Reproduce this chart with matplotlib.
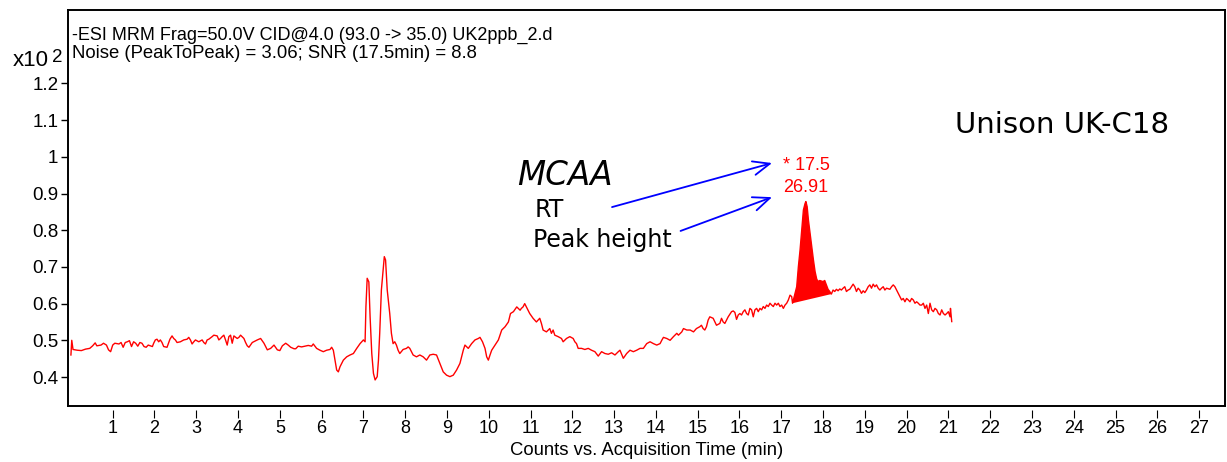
import numpy as np
import matplotlib
matplotlib.use("Agg")
import matplotlib.pyplot as plt

# chromatogram trace (time in min, counts in units of 10^2)
time_min = [
    0.00, 0.02, 0.05, 0.15, 0.25, 0.35, 0.45, 0.52, 0.58, 0.62, 0.72, 0.78, 0.85, 0.90, 0.95,
    1.00, 1.05, 1.15, 1.20, 1.25, 1.30, 1.35, 1.40, 1.45, 1.50, 1.55, 1.60, 1.65, 1.70, 1.75,
    1.80, 1.85, 1.95, 1.98, 2.02, 2.06, 2.10, 2.14, 2.18, 2.22, 2.30, 2.37, 2.42, 2.46, 2.50,
    2.54, 2.62, 2.70, 2.78, 2.82, 2.86, 2.90, 2.94, 2.98, 3.06, 3.14, 3.18, 3.22, 3.26, 3.30,
    3.38, 3.42, 3.50, 3.54, 3.58, 3.62, 3.66, 3.70, 3.74, 3.78, 3.82, 3.86, 3.90, 3.98, 4.02,
    4.06, 4.14, 4.18, 4.22, 4.26, 4.34, 4.46, 4.54, 4.62, 4.70, 4.78, 4.86, 4.94, 5.00, 5.06,
    5.14, 5.20, 5.26, 5.34, 5.38,
    5.44, 5.52, 5.60, 5.68, 5.76, 5.80, 5.84, 5.88, 5.96, 6.04, 6.12, 6.20, 6.24, 6.28, 6.32,
    6.36, 6.40, 6.44, 6.48, 6.52, 6.60, 6.68, 6.76, 6.84, 6.92, 7.00, 7.04, 7.06, 7.09, 7.13,
    7.16, 7.20, 7.24, 7.28, 7.33, 7.36, 7.39, 7.43, 7.50, 7.53, 7.57, 7.63, 7.67, 7.71, 7.75,
    7.79, 7.83, 7.87, 7.95, 8.03, 8.07, 8.11, 8.19, 8.27, 8.35, 8.43, 8.51, 8.59, 8.67, 8.75,
    8.83, 8.91, 8.99, 9.07, 9.15, 9.23, 9.31, 9.39, 9.43, 9.51, 9.59, 9.67, 9.75, 9.79, 9.85,
    9.91, 9.95, 9.99, 10.03, 10.07, 10.15, 10.23, 10.31, 10.39, 10.47, 10.52, 10.59, 10.67, 10.75,
    10.78, 10.82, 10.86, 10.90, 10.94, 10.98, 11.06, 11.14, 11.22, 11.26, 11.30, 11.38, 11.46, 11.50,
    11.54, 11.58, 11.66, 11.74, 11.78, 11.86, 11.94, 12.02, 12.06, 12.10, 12.14, 12.22, 12.30, 12.38,
    12.46, 12.54, 12.62, 12.70, 12.78, 12.86, 12.94, 13.02, 13.10, 13.14, 13.22, 13.30, 13.38, 13.46,
    13.54, 13.62, 13.70, 13.78, 13.86, 13.94, 14.02, 14.10, 14.14, 14.18, 14.26, 14.34, 14.42, 14.50,
    14.54, 14.62, 14.66, 14.74, 14.82, 14.90, 14.97, 15.05, 15.09, 15.13, 15.17, 15.21, 15.25, 15.29,
    15.37, 15.45, 15.53, 15.57, 15.61, 15.65, 15.73, 15.81, 15.85, 15.89, 15.93, 15.97, 16.01,
    16.05, 16.09, 16.13, 16.17, 16.21, 16.25, 16.29, 16.33, 16.37, 16.41, 16.45, 16.49, 16.53, 16.57,
    16.61, 16.65, 16.69, 16.73, 16.77, 16.81, 16.85, 16.89, 16.93, 16.97, 17.01, 17.05, 17.09, 17.13,
    17.17, 17.21, 17.25, 17.27, 17.33, 17.37, 17.41, 17.45, 17.49, 17.53, 17.57, 17.59, 17.62, 17.65,
    17.69, 17.73, 17.77, 17.81, 17.85, 17.89, 17.92, 18.00, 18.04, 18.08, 18.12, 18.16, 18.20,
    18.24, 18.28, 18.32, 18.36, 18.40, 18.44, 18.48, 18.52, 18.56, 18.60, 18.64, 18.68, 18.72, 18.76,
    18.80, 18.84, 18.88, 18.92, 18.96, 19.00, 19.04, 19.08, 19.12, 19.16, 19.20, 19.24, 19.28, 19.32,
    19.36, 19.40, 19.44, 19.48, 19.52, 19.60, 19.64, 19.68, 19.72, 19.76, 19.80, 19.84, 19.88, 19.92,
    19.96, 20.00, 20.04, 20.08, 20.12, 20.16, 20.20, 20.24, 20.28, 20.32, 20.36, 20.40, 20.44, 20.48,
    20.52, 20.56, 20.60, 20.64, 20.68, 20.72, 20.76, 20.80, 20.84, 20.88, 20.92, 20.96, 21.00, 21.04,
    21.05, 21.08,
]
counts = [
    0.460, 0.500, 0.475, 0.473, 0.472, 0.476, 0.478, 0.485, 0.493, 0.485, 0.487, 0.492, 0.487, 0.474, 0.469,
    0.487, 0.492, 0.490, 0.494, 0.481, 0.494, 0.496, 0.499, 0.483, 0.496, 0.492, 0.484, 0.494, 0.492, 0.483,
    0.481, 0.487, 0.483, 0.492, 0.501, 0.503, 0.496, 0.501, 0.494, 0.483, 0.481, 0.503, 0.512, 0.505, 0.501,
    0.494, 0.496, 0.501, 0.503, 0.508, 0.501, 0.490, 0.496, 0.501, 0.496, 0.501, 0.494, 0.490, 0.501, 0.503,
    0.510, 0.514, 0.512, 0.501, 0.505, 0.510, 0.514, 0.501, 0.487, 0.510, 0.514, 0.492, 0.512, 0.505, 0.508,
    0.514, 0.505, 0.494, 0.485, 0.481, 0.494, 0.501, 0.505, 0.492, 0.474, 0.478, 0.487, 0.474, 0.472, 0.485,
    0.492, 0.487, 0.481, 0.477, 0.477,
    0.484, 0.482, 0.484, 0.486, 0.484, 0.490, 0.484, 0.478, 0.473, 0.469, 0.473, 0.475, 0.481, 0.473, 0.446,
    0.419, 0.414, 0.428, 0.437, 0.446, 0.455, 0.460, 0.464, 0.478, 0.491, 0.501, 0.496, 0.591, 0.669, 0.659,
    0.564, 0.464, 0.410, 0.392, 0.401, 0.446, 0.519, 0.637, 0.728, 0.719, 0.637, 0.573, 0.519, 0.491, 0.496,
    0.487, 0.473, 0.464, 0.475, 0.478, 0.482, 0.478, 0.460, 0.455, 0.460, 0.455, 0.446, 0.460, 0.462, 0.460,
    0.437, 0.414, 0.405, 0.401, 0.405, 0.419, 0.437, 0.473, 0.487, 0.478, 0.491, 0.501, 0.505, 0.508, 0.496,
    0.478, 0.455, 0.446, 0.460, 0.473, 0.487, 0.501, 0.528, 0.537, 0.550, 0.573, 0.578, 0.591, 0.582,
    0.587, 0.591, 0.600, 0.591, 0.582, 0.573, 0.560, 0.550, 0.560, 0.546, 0.528, 0.523, 0.532, 0.519,
    0.528, 0.514, 0.510, 0.505, 0.496, 0.505, 0.510, 0.505, 0.496, 0.491, 0.478, 0.478, 0.475, 0.478,
    0.473, 0.469, 0.457, 0.469, 0.464, 0.462, 0.466, 0.460, 0.469, 0.473, 0.451, 0.464, 0.473, 0.469,
    0.473, 0.478, 0.478, 0.491, 0.496, 0.491, 0.487, 0.491, 0.500, 0.508, 0.505, 0.500, 0.510, 0.519,
    0.514, 0.523, 0.532, 0.528, 0.528, 0.523, 0.532, 0.537, 0.541, 0.532, 0.528, 0.537, 0.555, 0.564,
    0.560, 0.541, 0.546, 0.560, 0.550, 0.546, 0.564, 0.578, 0.580, 0.576, 0.557, 0.569, 0.573,
    0.569, 0.578, 0.583, 0.573, 0.569, 0.587, 0.583, 0.564, 0.583, 0.587, 0.578, 0.587, 0.583, 0.592,
    0.587, 0.596, 0.592, 0.601, 0.596, 0.592, 0.601, 0.596, 0.601, 0.592, 0.596, 0.587, 0.596, 0.601,
    0.610, 0.623, 0.619, 0.601, 0.628, 0.646, 0.701, 0.746, 0.800, 0.855, 0.873, 0.878, 0.864, 0.828,
    0.791, 0.755, 0.719, 0.687, 0.666, 0.660, 0.663, 0.660, 0.663, 0.651, 0.639, 0.633, 0.626,
    0.637, 0.633, 0.639, 0.635, 0.640, 0.637, 0.642, 0.646, 0.633, 0.637, 0.639, 0.646, 0.653, 0.646,
    0.633, 0.642, 0.637, 0.628, 0.635, 0.630, 0.637, 0.646, 0.651, 0.642, 0.653, 0.646, 0.651, 0.642,
    0.637, 0.642, 0.646, 0.637, 0.642, 0.639, 0.646, 0.651, 0.646, 0.637, 0.628, 0.619, 0.610, 0.614,
    0.605, 0.614, 0.610, 0.605, 0.614, 0.610, 0.601, 0.605, 0.601, 0.596, 0.596, 0.601, 0.587, 0.596,
    0.573, 0.601, 0.583, 0.578, 0.587, 0.583, 0.573, 0.569, 0.583, 0.573, 0.569, 0.573, 0.578, 0.564,
    0.587, 0.551,
]

# integrated peak window (baseline drawn between its end points)
peak_start = 17.27
peak_end = 18.20
peak_rt = "17.5"
peak_height = "26.91"

header_lines = [
    "-ESI MRM Frag=50.0V CID@4.0 (93.0 -> 35.0) UK2ppb_2.d",
    "Noise (PeakToPeak) = 3.06; SNR (17.5min) = 8.8",
]
y_ticks = [0.4, 0.5, 0.6, 0.7, 0.8, 0.9, 1.0, 1.1, 1.2]
x_ticks = list(range(1, 28))

t = np.array(time_min)
c = np.array(counts)

W, H = 1227, 462
fig = plt.figure(figsize=(W / 100, H / 100), dpi=100)
ax = fig.add_axes([68 / W, 1 - 406 / H, (1225 - 68) / W, (406 - 10) / H])

# ticks sit a little below the frame on the x axis (set before the tick labels,
# moving a spine resets the ticks)
for s in ["left", "right", "top"]:
    ax.spines[s].set_linewidth(1.4)
ax.spines["bottom"].set_position(("outward", 3))
ax.spines["bottom"].set_visible(False)
ax.plot([0, 1], [0, 0], transform=ax.transAxes, color="black", lw=1.4,
        clip_on=False, solid_capstyle="projecting")

ax.plot(t, c, color="#ff0000", lw=1.0)
mask = (t >= peak_start) & (t <= peak_end)
ax.fill(t[mask], c[mask], color="#ff0000", lw=0)

ax.set_xlim(-0.07, 27.62)
ax.set_ylim(0.321, 1.40)

lab_font = dict(family="Liberation Sans")
ax.set_yticks(y_ticks)
ax.set_yticklabels([f"{v:g}" for v in y_ticks], fontsize=13.5, **lab_font)
ax.set_xticks(x_ticks)
ax.set_xticklabels([str(v) for v in x_ticks], fontsize=13, **lab_font)
ax.tick_params(axis="y", direction="out", length=5, width=1, pad=2)
ax.tick_params(axis="x", direction="out", length=6, width=0.8, pad=1)

ax.set_xlabel("Counts vs. Acquisition Time (min)", fontsize=13.3, labelpad=4, **lab_font)

fig.text(72 / W, 1 - 35 / H, header_lines[0], fontsize=13, va="center", **lab_font)
fig.text(72 / W, 1 - 54 / H, header_lines[1], fontsize=13.3, va="center", **lab_font)
fig.text(13 / W, 1 - 61 / H, "x10", fontsize=16, va="center", **lab_font)
fig.text(52 / W, 1 - 57 / H, "2", fontsize=13.5, va="center", **lab_font)

ax.text(21.16, 1.087, "Unison UK-C18", fontsize=21, va="center", family="DejaVu Sans")
ax.text(10.69, 0.95, "MCAA", fontsize=23.5, va="center", style="italic", family="DejaVu Sans")
ax.text(11.1, 0.855, "RT", fontsize=17, va="center", family="DejaVu Sans")
ax.text(11.05, 0.773, "Peak height", fontsize=17, va="center", family="DejaVu Sans")

arrow = dict(arrowstyle="->,head_length=1.2,head_width=0.5", color="#0000ff", lw=1.3,
             shrinkA=0, shrinkB=0)
ax.annotate("", xy=(16.78, 0.983), xytext=(12.95, 0.863), arrowprops=arrow)
ax.annotate("", xy=(16.78, 0.890), xytext=(14.59, 0.798), arrowprops=arrow)

ax.text(17.04, 0.975, "* " + peak_rt, color="#ff0000", fontsize=13, va="center", **lab_font)
ax.text(17.04, 0.915, peak_height, color="#ff0000", fontsize=13, va="center", **lab_font)

fig.savefig("out.png", dpi=100)
